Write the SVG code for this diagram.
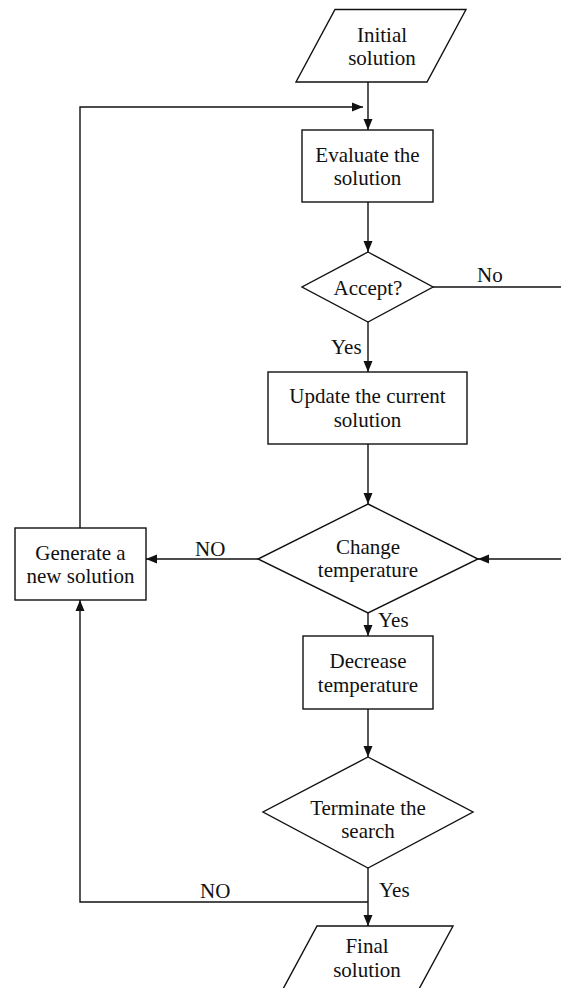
<svg xmlns="http://www.w3.org/2000/svg" width="561" height="988" viewBox="0 0 561 988">
<defs>
<marker id="arr" markerUnits="userSpaceOnUse" markerWidth="12" markerHeight="10" refX="11" refY="5" orient="auto">
<path d="M0,0.5 L11,5 L0,9.5 Z" fill="#111"/>
</marker>
<style>
.shape{fill:#fff;stroke:#111;stroke-width:1.4}
.conn{fill:none;stroke:#111;stroke-width:1.4}
text{font-family:"Liberation Serif","Times New Roman",serif;font-size:21px;fill:#111}
.c{text-anchor:middle}
</style>
</defs>
<rect width="561" height="988" fill="#fff"/>
<g id="connectors">
<line class="conn" x1="368" y1="82" x2="368" y2="130" marker-end="url(#arr)"/>
<path class="conn" d="M80,528 V107 H363" marker-end="url(#arr)"/>
<line class="conn" x1="368" y1="202" x2="368" y2="252" marker-end="url(#arr)"/>
<line class="conn" x1="433" y1="287" x2="561" y2="287"/>
<line class="conn" x1="368" y1="322" x2="368" y2="372" marker-end="url(#arr)"/>
<line class="conn" x1="368" y1="444" x2="368" y2="504" marker-end="url(#arr)"/>
<line class="conn" x1="258" y1="559" x2="146" y2="559" marker-end="url(#arr)"/>
<line class="conn" x1="561" y1="559" x2="478" y2="559" marker-end="url(#arr)"/>
<line class="conn" x1="368" y1="613" x2="368" y2="636" marker-end="url(#arr)"/>
<line class="conn" x1="368" y1="709" x2="368" y2="757" marker-end="url(#arr)"/>
<line class="conn" x1="368" y1="868" x2="368" y2="926" marker-end="url(#arr)"/>
<path class="conn" d="M368,902 H80 V600" marker-end="url(#arr)"/>
<text x="477" y="282">No</text>
<text x="331" y="354">Yes</text>
<text x="195" y="556">NO</text>
<text x="378" y="627">Yes</text>
<text x="200" y="898">NO</text>
<text x="379" y="897">Yes</text>
</g>
<g id="initial">
<polygon class="shape" points="335,9.5 466,9.5 427,82 296,82"/>
<text class="c" x="382" y="42">Initial</text>
<text class="c" x="382" y="65">solution</text>
</g>
<g id="evaluate">
<rect class="shape" x="302" y="130" width="131" height="72"/>
<text class="c" x="367.5" y="162">Evaluate the</text>
<text class="c" x="367.5" y="185">solution</text>
</g>
<g id="accept">
<polygon class="shape" points="368,252 433,287 368,322 302,287"/>
<text class="c" x="368" y="295">Accept?</text>
</g>
<g id="update">
<rect class="shape" x="268" y="372" width="199" height="72"/>
<text class="c" x="367.5" y="403">Update the current</text>
<text class="c" x="367.5" y="427">solution</text>
</g>
<g id="change">
<polygon class="shape" points="368,504 478,559 368,613 258,559"/>
<text class="c" x="368" y="554">Change</text>
<text class="c" x="368" y="577">temperature</text>
</g>
<g id="generate">
<rect class="shape" x="15" y="528" width="131" height="72"/>
<text class="c" x="80.5" y="560">Generate a</text>
<text class="c" x="80.5" y="583">new solution</text>
</g>
<g id="decrease">
<rect class="shape" x="303" y="636" width="130" height="73"/>
<text class="c" x="368" y="668">Decrease</text>
<text class="c" x="368" y="692">temperature</text>
</g>
<g id="terminate">
<polygon class="shape" points="368,757 473,812 368,868 263,812"/>
<text class="c" x="368" y="815">Terminate the</text>
<text class="c" x="368" y="838">search</text>
</g>
<g id="final">
<polygon class="shape" points="317,926 453,926 419,989 283,989"/>
<text class="c" x="367" y="953">Final</text>
<text class="c" x="367" y="977">solution</text>
</g>
</svg>
